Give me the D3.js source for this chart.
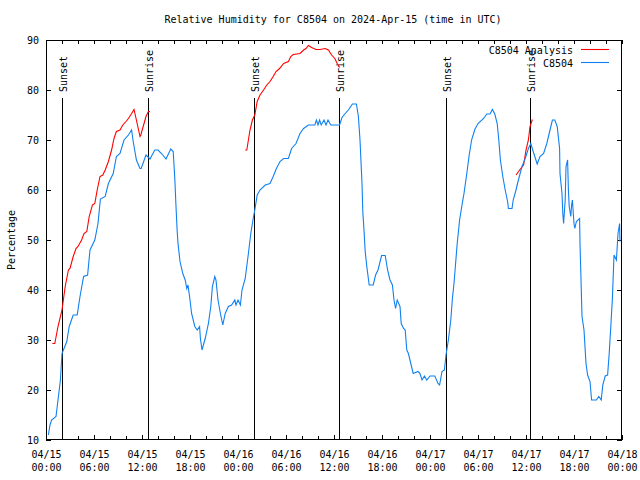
<!DOCTYPE html>
<html><head><meta charset="utf-8">
<script src="https://cdn.jsdelivr.net/npm/d3@7"></script>
<style>
body{margin:0;background:#fff;}
svg text{font-family:"DejaVu Sans Mono",monospace;font-size:10px;fill:#000;}
</style></head>
<body><svg id="c" width="640" height="480"></svg>
<script>
const titleText = "Relative Humidity for C8504 on 2024-Apr-15 (time in UTC)";
const yLabel = "Percentage";
const seriesNames = ["C8504 Analysis", "C8504"];
const yTicks = [10,20,30,40,50,60,70,80,90];
// hours since 2024-04-15 00:00 UTC
const blueHours = [0.3,0.5,0.7,1.25,1.5,1.8,2.0,2.3,2.6,2.9,3.4,3.9,4.25,4.7,5.2,5.5,6.1,6.5,6.8,7.4,7.8,8.4,8.8,9.25,9.75,10.3,10.7,10.9,11.3,11.75,11.9,12.5,13.0,13.6,14.0,14.5,15.0,15.6,15.9,16.1,16.25,16.4,16.5,16.75,17.1,17.4,17.6,17.75,18.0,18.2,18.6,18.9,19.2,19.3,19.5,19.9,20.3,20.6,20.8,21.1,21.25,21.5,21.8,22.1,22.4,22.8,23.2,23.6,23.75,24.0,24.3,24.5,24.9,25.3,25.6,25.9,26.1,26.4,26.75,27.4,28.0,28.4,28.8,29.25,29.7,30.3,30.7,31.25,31.75,32.2,32.8,33.6,33.8,34.0,34.2,34.4,34.75,35.0,35.25,35.6,36.7,37.0,37.4,37.8,38.3,38.8,39.05,39.25,39.5,39.6,39.75,39.9,40.1,40.4,40.9,41.2,41.5,41.95,42.4,42.7,43.0,43.3,43.5,43.7,43.9,44.25,44.4,44.7,44.9,45.1,45.3,45.6,45.9,46.5,46.75,47.0,47.3,47.6,48.0,48.6,49.0,49.2,49.5,49.8,50.0,50.3,50.6,50.8,51.0,51.2,51.4,51.7,52.0,52.25,52.6,52.9,53.2,53.6,54.0,54.7,55.1,55.5,55.8,56.1,56.4,56.6,56.8,57.1,57.4,57.7,57.8,58.25,58.4,58.75,59.0,59.5,59.9,60.3,60.6,60.9,61.4,61.75,62.2,62.6,63.0,63.3,63.6,63.9,64.2,64.25,64.5,64.6,64.7,64.9,65.0,65.2,65.3,65.4,65.6,65.7,65.8,66.0,66.1,66.3,66.7,66.75,66.9,67.0,67.25,67.4,67.5,67.7,68.0,68.2,68.8,69.1,69.4,69.6,69.9,70.2,70.4,70.6,70.8,71.0,71.3,71.5,71.7,71.75];
const blueRH = [11,13,14,14.7,18,22,27.3,28.5,29.7,32.7,35,35,38.7,42.7,43,48,50,53.3,58.2,58.7,61.3,63.3,66.7,67.3,70,71,72,69.7,66,64.3,64.3,67,66.2,68,68,67.2,66.2,68.2,67.7,62.3,56.7,51.7,49.3,45.7,43.3,42,40.3,41,38,35.3,32.7,32,32.7,30.3,28,30.3,33.3,36.7,40.7,42.7,42,38,35.3,33,35.3,36.7,37,38,37,38,37,40,42.3,47.3,51.3,54.3,56,59,60,61,61.3,62.7,64.3,65.7,66.3,66.3,68.3,69.3,71.3,72.3,73,73,74,73,74,73,74,73,74,73,73,74.5,75.3,76,77.2,77.2,74.7,70,61.3,55.7,52,47.7,44.7,41,41,43,44,46.9,46.9,44,42,41,38,36.3,38,36.7,33.3,32.3,32,28,27.3,25.3,23.3,23.7,23.3,22,22.8,22,22.8,22.8,21.3,21,23.7,24,27,30,34,38.3,41.3,45.3,49.3,54,57,59.3,63.3,67,70,72.1,73.3,74.3,75.2,75.2,76.1,75.2,73.3,70,66,62.7,60,57.7,56.3,56.3,58,60,61.7,64.7,66.3,68.3,69.3,67.7,65.2,66.7,67.3,69.3,72,74,74,72.7,68.3,63.3,59.3,55.3,53.3,58,64.7,66,60,56.7,54.7,57,58,53.3,52.3,53.7,54.3,49.3,40.7,34.7,32,28,25.3,23,21.7,18,18,18.7,18,21,22.8,23,27.3,32.7,38.3,47,46,51.3,53.3,49.7];
// analysis series: null marks a gap
const redHours = [0.8,1.1,1.5,2.0,2.4,2.8,3.0,3.4,3.75,4.0,4.45,4.75,5.1,5.4,5.8,6.1,6.4,6.75,7.1,7.4,7.8,8.2,8.5,8.8,9.25,9.6,10.0,10.3,10.7,11.0,11.3,11.75,11.85,12.5,12.8,13.0, null,
  24.9,25.1,25.5,25.8,26.1,26.4,26.75,27.2,27.6,28.0,28.4,28.75,29.2,29.7,30.3,30.6,30.9,31.75,32.2,32.5,32.8,33.2,33.75,34.25,34.9,35.3,35.7,36.1,36.4,36.7, null,
  58.75,59.25,59.4,59.7,60.0,60.3,60.5,60.8];
const redRH = [29.3,29.3,32.7,36,40.7,44,44.3,46.7,48.3,48.7,50,51.3,51.7,54.7,57,57.3,60,62.7,63,64,65.7,68,70.3,71.7,72,73,73.7,74.3,75.3,76.1,74,70.7,71,74.7,75.7,75.7, null,
  68,68,72,74,75,77.7,79,80,81,81.7,82.7,83.7,84.3,85.3,85.7,86.7,87.1,87.3,88,88.3,88.9,88.5,88.1,88.1,88.3,88,87,86.3,85.3,84.5, null,
  63,64.1,64.4,65,68,70,72.7,74.1];
const sunsetHours = [2, 26, 50];
const sunriseHours = [12.75, 36.625, 60.5];

const W = 640, H = 480;
const m = {l:46, r:622, t:40, b:440};
const base = Date.UTC(2024,3,15);
const toDate = h => new Date(base + h*3600e3);
const x = d3.scaleUtc().domain([toDate(0), toDate(72)]).range([m.l, m.r]);
const y = d3.scaleLinear().domain([10,90]).range([m.b, m.t]);
const svg = d3.select("#c");

// title
svg.append("text").attr("x", 333).attr("y", 23).attr("text-anchor","middle").text(titleText);
// y label
svg.append("text").attr("transform","translate(15,240) rotate(-90)").attr("text-anchor","middle").text(yLabel);

// axes
const yAx = svg.append("g").attr("transform",`translate(${m.l},0)`)
  .call(d3.axisLeft(y).tickValues(yTicks).tickSize(-5).tickPadding(7).tickFormat(d3.format("d")));
const yAxR = svg.append("g").attr("transform",`translate(${m.r},0)`)
  .call(d3.axisRight(y).tickValues(yTicks).tickSize(-5).tickFormat(""));
const majors = d3.utcHour.every(6).range(toDate(0), toDate(72.01));
const minors = d3.utcHour.every(2).range(toDate(0), toDate(72.01));
svg.append("g").attr("transform",`translate(0,${m.b})`)
  .call(d3.axisBottom(x).tickValues(minors).tickSize(-4).tickFormat(""));
svg.append("g").attr("transform",`translate(0,${m.t})`)
  .call(d3.axisTop(x).tickValues(minors).tickSize(-4).tickFormat(""));
const xAx = svg.append("g").attr("transform",`translate(0,${m.b})`)
  .call(d3.axisBottom(x).tickValues(majors).tickSize(-5).tickPadding(9).tickFormat(""));
svg.selectAll(".domain").remove();
svg.selectAll(".tick line").attr("stroke","#000").attr("shape-rendering","crispEdges");
yAx.selectAll("text").attr("dy","0.35em").style("font-family",'"DejaVu Sans Mono",monospace').style("font-size","10px");
const fmt1 = d3.utcFormat("%m/%d"), fmt2 = d3.utcFormat("%H:%M");
xAx.selectAll(".tick").each(function(d){
  const t = d3.select(this).append("text").attr("text-anchor","middle").attr("fill","#000")
    .style("font-family",'"DejaVu Sans Mono",monospace').style("font-size","10px");
  t.append("tspan").attr("x",0).attr("y",18).text(fmt1(d));
  t.append("tspan").attr("x",0).attr("y",31).text(fmt2(d));
});

// frame
svg.append("rect").attr("x",m.l+0.5).attr("y",m.t+0.5).attr("width",m.r-m.l-1).attr("height",m.b-m.t-1)
  .attr("fill","none").attr("stroke","#000").attr("shape-rendering","crispEdges");

// sun events
const evTop = m.b - 0.855*(m.b-m.t);
const labTop = m.b - 0.87*(m.b-m.t);
function drawEvents(hours, label){
  hours.forEach(h=>{
    const px = Math.round(x(toDate(h))) + 0.5;
    svg.append("line").attr("x1",px).attr("x2",px).attr("y1",evTop).attr("y2",m.b)
      .attr("stroke","#000").attr("shape-rendering","crispEdges");
    svg.append("text").attr("transform",`translate(${px+4},${labTop}) rotate(-90)`).text(label);
  });
}
drawEvents(sunsetHours,"Sunset");
drawEvents(sunriseHours,"Sunrise");

// series
const blue = blueHours.map((h,i)=>({t:toDate(h), v:blueRH[i]}));
const red = redHours.map((h,i)=>({t: h===null?null:toDate(h), v:redRH[i]}));
const line = d3.line().defined(d=>d.t!==null && d.v!==null).x(d=>x(d.t)).y(d=>y(d.v));
svg.append("path").attr("d",line(red)).attr("fill","none").attr("stroke","#ff0000").attr("stroke-width",1.1);
svg.append("path").attr("d",line(blue)).attr("fill","none").attr("stroke","#1080f0").attr("stroke-width",1.1);

// legend
const leg = [{name:seriesNames[0], c:"#ff0000", y:49.5},{name:seriesNames[1], c:"#1080f0", y:62.5}];
leg.forEach(l=>{
  svg.append("text").attr("x",573).attr("y",l.y+4).attr("text-anchor","end").text(l.name);
  svg.append("line").attr("x1",581).attr("x2",609).attr("y1",l.y).attr("y2",l.y).attr("stroke",l.c).attr("stroke-width",1.1);
});
</script></body></html>
